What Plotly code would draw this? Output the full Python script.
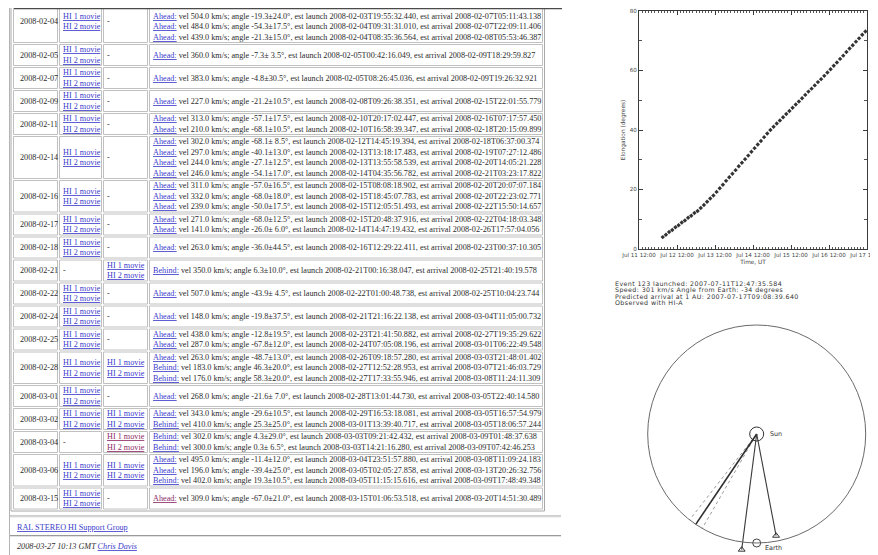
import numpy as np
import pandas as pd
import plotly.graph_objects as go

# ---------------- table data (web page listing) ----------------
dates = ["2008-02-04", "2008-02-05", "2008-02-07", "2008-02-09", "2008-02-11",
         "2008-02-14", "2008-02-16", "2008-02-17", "2008-02-18", "2008-02-21",
         "2008-02-22", "2008-02-24", "2008-02-25", "2008-02-28", "2008-03-01",
         "2008-03-02", "2008-03-04", "2008-03-06", "2008-03-15"]
hi_a_movies = [True, True, True, True, True, True, True, True, True, False,
               True, True, True, True, True, True, False, True, True]
hi_b_movies = [False, False, False, False, False, False, False, False, False, True,
               False, False, False, True, False, True, True, True, False]
visited_b_movies = ["2008-03-04"]
visited_events = [("2008-03-15", 0)]
first_row_hidden_lines = 1   # the first row is scrolled partly out of view

events = [
    [("Ahead", "vel 504.0 km/s; angle -19.3±24.0°, est launch 2008-02-03T19:55:32.440, est arrival 2008-02-07T05:11:43.138"),
     ("Ahead", "vel 484.0 km/s; angle -54.3±17.5°, est launch 2008-02-04T09:31:31.010, est arrival 2008-02-07T22:09:11.406"),
     ("Ahead", "vel 439.0 km/s; angle -21.3±15.0°, est launch 2008-02-04T08:35:36.564, est arrival 2008-02-08T05:53:46.387")],
    [("Ahead", "vel 360.0 km/s; angle -7.3± 3.5°, est launch 2008-02-05T00:42:16.049, est arrival 2008-02-09T18:29:59.827")],
    [("Ahead", "vel 383.0 km/s; angle -4.8±30.5°, est launch 2008-02-05T08:26:45.036, est arrival 2008-02-09T19:26:32.921")],
    [("Ahead", "vel 227.0 km/s; angle -21.2±10.5°, est launch 2008-02-08T09:26:38.351, est arrival 2008-02-15T22:01:55.779")],
    [("Ahead", "vel 313.0 km/s; angle -57.1±17.5°, est launch 2008-02-10T20:17:02.447, est arrival 2008-02-16T07:17:57.450"),
     ("Ahead", "vel 210.0 km/s; angle -68.1±10.5°, est launch 2008-02-10T16:58:39.347, est arrival 2008-02-18T20:15:09.899")],
    [("Ahead", "vel 302.0 km/s; angle -68.1± 8.5°, est launch 2008-02-12T14:45:19.394, est arrival 2008-02-18T06:37:00.374"),
     ("Ahead", "vel 297.0 km/s; angle -40.1±13.0°, est launch 2008-02-13T13:18:17.483, est arrival 2008-02-19T07:27:12.486"),
     ("Ahead", "vel 244.0 km/s; angle -27.1±12.5°, est launch 2008-02-13T13:55:58.539, est arrival 2008-02-20T14:05:21.228"),
     ("Ahead", "vel 246.0 km/s; angle -54.1±17.0°, est launch 2008-02-14T04:35:56.782, est arrival 2008-02-21T03:23:17.822")],
    [("Ahead", "vel 311.0 km/s; angle -57.0±16.5°, est launch 2008-02-15T08:08:18.902, est arrival 2008-02-20T20:07:07.184"),
     ("Ahead", "vel 332.0 km/s; angle -68.0±18.0°, est launch 2008-02-15T18:45:07.783, est arrival 2008-02-20T22:23:02.771"),
     ("Ahead", "vel 239.0 km/s; angle -50.0±17.5°, est launch 2008-02-15T12:05:51.493, est arrival 2008-02-22T15:50:14.657")],
    [("Ahead", "vel 271.0 km/s; angle -68.0±12.5°, est launch 2008-02-15T20:48:37.916, est arrival 2008-02-22T04:18:03.348"),
     ("Ahead", "vel 141.0 km/s; angle -26.0± 6.0°, est launch 2008-02-14T14:47:19.432, est arrival 2008-02-26T17:57:04.056")],
    [("Ahead", "vel 263.0 km/s; angle -36.0±44.5°, est launch 2008-02-16T12:29:22.411, est arrival 2008-02-23T00:37:10.305")],
    [("Behind", "vel 350.0 km/s; angle 6.3±10.0°, est launch 2008-02-21T00:16:38.047, est arrival 2008-02-25T21:40:19.578")],
    [("Ahead", "vel 507.0 km/s; angle -43.9± 4.5°, est launch 2008-02-22T01:00:48.738, est arrival 2008-02-25T10:04:23.744")],
    [("Ahead", "vel 148.0 km/s; angle -19.8±37.5°, est launch 2008-02-21T21:16:22.138, est arrival 2008-03-04T11:05:00.732")],
    [("Ahead", "vel 438.0 km/s; angle -12.8±19.5°, est launch 2008-02-23T21:41:50.882, est arrival 2008-02-27T19:35:29.622"),
     ("Ahead", "vel 287.0 km/s; angle -67.8±12.0°, est launch 2008-02-24T07:05:08.196, est arrival 2008-03-01T06:22:49.548")],
    [("Ahead", "vel 263.0 km/s; angle -48.7±13.0°, est launch 2008-02-26T09:18:57.280, est arrival 2008-03-03T21:48:01.402"),
     ("Behind", "vel 183.0 km/s; angle 46.3±20.0°, est launch 2008-02-27T12:52:28.953, est arrival 2008-03-07T21:46:03.729"),
     ("Behind", "vel 176.0 km/s; angle 58.3±20.0°, est launch 2008-02-27T17:33:55.946, est arrival 2008-03-08T11:24:11.309")],
    [("Ahead", "vel 268.0 km/s; angle -21.6± 7.0°, est launch 2008-02-28T13:01:44.730, est arrival 2008-03-05T22:40:14.580")],
    [("Ahead", "vel 343.0 km/s; angle -29.6±10.5°, est launch 2008-02-29T16:53:18.081, est arrival 2008-03-05T16:57:54.979"),
     ("Behind", "vel 410.0 km/s; angle 25.3±25.0°, est launch 2008-03-01T13:39:40.717, est arrival 2008-03-05T18:06:57.244")],
    [("Behind", "vel 302.0 km/s; angle 4.3±29.0°, est launch 2008-03-03T09:21:42.432, est arrival 2008-03-09T01:48:37.638"),
     ("Behind", "vel 300.0 km/s; angle 0.3± 6.5°, est launch 2008-03-03T14:21:16.280, est arrival 2008-03-09T07:42:46.253")],
    [("Ahead", "vel 495.0 km/s; angle -11.4±12.0°, est launch 2008-03-04T23:51:57.880, est arrival 2008-03-08T11:09:24.183"),
     ("Ahead", "vel 196.0 km/s; angle -39.4±25.0°, est launch 2008-03-05T02:05:27.858, est arrival 2008-03-13T20:26:32.756"),
     ("Behind", "vel 402.0 km/s; angle 19.3±10.5°, est launch 2008-03-05T11:15:15.616, est arrival 2008-03-09T17:48:49.348")],
    [("Ahead", "vel 309.0 km/s; angle -67.0±21.0°, est launch 2008-03-15T01:06:53.518, est arrival 2008-03-20T14:51:30.489")],
]

footer_group = "RAL STEREO HI Support Group"
footer_stamp = "2008-03-27 10:13 GMT"
footer_author = "Chris Davis"

# ---------------- elongation-time plot data ----------------
elong_deg = [4.0, 4.8, 5.7, 6.4, 7.3, 8.0, 8.9, 9.6, 10.5, 11.2, 12.1, 12.8,
             13.8, 14.8, 15.9, 17.0, 18.0, 19.2, 20.4, 21.6, 22.9, 24.1, 25.3, 26.5,
             27.8, 29.0, 30.2, 31.4, 32.7, 33.9, 35.1, 36.3, 37.6, 38.8, 40.0, 41.1,
             42.2, 43.2, 44.3, 45.4, 46.4, 47.5, 48.6, 49.6, 50.7, 51.8, 52.9, 53.9,
             55.0, 56.1, 57.1, 58.2, 59.3, 60.4, 61.6, 62.7, 63.9, 65.0, 66.2, 67.4,
             68.5, 69.7, 70.8, 72.0, 73.1, 74.3]
obs_start = "2007-07-12 03:00"
obs_cadence = "2h"
time_tick_vals = ["2007-07-11 12:00", "2007-07-12 12:00", "2007-07-13 12:00", "2007-07-14 12:00",
                  "2007-07-15 12:00", "2007-07-16 12:00", "2007-07-17 12:00"]
time_tick_text = ["Jul 11 12:00", "Jul 12 12:00", "Jul 13 12:00", "Jul 14 12:00",
                  "Jul 15 12:00", "Jul 16 12:00", "Jul 17 12:00"]
elong_tick_vals = [0, 20, 40, 60, 80]
elong_tick_text = ["0", "20", "40", "60", "80"]

event_info = ["Event 123 launched: 2007-07-11T12:47:35.584",
              "Speed: 301 km/s Angle from Earth: -34 degrees",
              "Predicted arrival at 1 AU: 2007-07-17T09:08:39.640",
              "Observed with HI-A"]

# ---------------- ecliptic-plane diagram data ----------------
sc_angle_deg = [10.8, -7.4]      # STEREO-A, STEREO-B, from Sun-Earth line
sc_dist_au = [0.95, 1.07]
cme_angle_deg = -34.0
cme_halfwidth_deg = 4.0
earth_dist_au = 1.0

# ======================================================================
W, H = 878, 555
OFF = 8.0          # page offset of the figure inside the browser window
LINK = "#3b3bcc"
VISITED = "#8e2a66"
BODY = "#2b2b2b"
SERIF = "Liberation Serif"
FS = 8.2


def px2x(p):
    return min(1.0, max(0.0, (p - OFF) / W))


def px2y(p):
    return min(1.0, max(0.0, 1 - (p - OFF) / H))


fig = go.Figure()
shapes = []
annos = []

fig.add_trace(go.Scatter(x=[0], y=[0], mode="markers", marker=dict(opacity=0),
                         hoverinfo="skip", showlegend=False, xaxis="x", yaxis="y"))


def hline(y, x0, x1, color, width=1):
    shapes.append(dict(type="line", xref="x", yref="y", x0=x0, x1=x1, y0=y, y1=y,
                       line=dict(color=color, width=width)))


def text(x, y, s, color=BODY, size=FS, family=SERIF, xanchor="left"):
    annos.append(dict(x=x, y=y, xref="x", yref="y", text=s, showarrow=False,
                      xanchor=xanchor, yanchor="middle",
                      font=dict(family=family, size=size, color=color)))


LH = 10.5
GAP = 2.0
lead = [first_row_hidden_lines if i == 0 else 0 for i in range(len(dates))]
row_n = [max(2, len(ev) + lead[i]) for i, ev in enumerate(events)]
row_h = [n * LH + GAP for n in row_n]
center1 = 55.0
tops = [0.0] * len(dates)
tops[1] = center1 - row_h[1] / 2
tops[0] = tops[1] - row_h[0]
for i in range(2, len(dates)):
    tops[i] = tops[i - 1] + row_h[i - 1]
table_bottom = tops[-1] + row_h[-1]

col_x = [(13.5, 57.5), (59.5, 101.5), (103.5, 147.5), (149.5, 542.5)]
CELL = "#c0c0c0"

shapes.append(dict(type="rect", xref="x", yref="y", x0=11, x1=544.5, y0=-5, y1=table_bottom + 1,
                   line=dict(color="#a8a8a8", width=1)))
shapes.append(dict(type="line", xref="x", yref="y", x0=9.5, x1=9.5, y0=0, y1=H + OFF,
                   line=dict(color="#b4b4b4", width=1)))

for i, d in enumerate(dates):
    t = tops[i]
    h = row_h[i]
    c = t + h / 2
    for (x0, x1) in col_x:
        shapes.append(dict(type="rect", xref="x", yref="y", x0=x0, x1=x1,
                           y0=t + GAP / 2, y1=t + h - GAP / 2,
                           line=dict(color=CELL, width=1)))
    text(17.5, c, d)
    if hi_a_movies[i]:
        text(60.5, c - LH / 2, "<u>HI 1 movie</u>", color=LINK)
        text(60.5, c + LH / 2, "<u>HI 2 movie</u>", color=LINK)
    else:
        text(60.5, c, "-")
    if hi_b_movies[i]:
        col = VISITED if d in visited_b_movies else LINK
        text(104.5, c - LH / 2, "<u>HI 1 movie</u>", color=col)
        text(104.5, c + LH / 2, "<u>HI 2 movie</u>", color=col)
    else:
        text(104.5, c, "-")
    n = len(events[i]) + lead[i]
    for k, (craft, body) in enumerate(events[i]):
        kk = k + lead[i]
        yk = c + (kk - (n - 1) / 2) * LH
        col = VISITED if (d, k) in visited_events else LINK
        s = f"<span style='color:{col}'><u>{craft}:</u></span> {body}"
        text(150.5, yk, s)

hline(8.5, 14, 562, "#4a4a4a", 1.5)

hline(table_bottom + 6, 10, 561, "#9a9a9a", 1)
hline(table_bottom + 7, 10, 561, "#e2e2e2", 1)
text(15, table_bottom + 17.5, f"<u>{footer_group}</u>", color=LINK)
hline(table_bottom + 25.5, 10, 561, "#9a9a9a", 1)
hline(table_bottom + 26.5, 10, 561, "#e2e2e2", 1)
text(15, table_bottom + 36, f"<i>{footer_stamp} <span style='color:{LINK}'><u>{footer_author}</u></span></i>")

# ---------------- elongation plot ----------------
obs_times = pd.date_range(obs_start, periods=len(elong_deg), freq=obs_cadence)
fig.add_trace(go.Scatter(x=obs_times, y=elong_deg, mode="markers", xaxis="x2", yaxis="y2",
                         marker=dict(symbol="diamond", size=3.4, color="#333333"),
                         showlegend=False, hoverinfo="skip", cliponaxis=False))

SANS = "DejaVu Sans"
AX = "#3a3a3a"
px_l, px_r, px_t, px_b = 639, 867, 11, 249

# ---------------- ecliptic diagram ----------------
R = 109.0
cx_px, cy_px = 756.7, 434.0
d_l, d_r, d_t, d_b = 630, 878 + OFF, 320, 555 + OFF
x3_range = [-(cx_px - d_l) / R, (d_r - cx_px) / R]
y3_range = [-(d_b - cy_px) / R, (cy_px - d_t) / R]

ang = np.radians(sc_angle_deg)
sc_x = np.array(sc_dist_au) * np.sin(ang)
sc_y = -np.array(sc_dist_au) * np.cos(ang)

shapes.append(dict(type="circle", xref="x3", yref="y3", x0=-1, x1=1, y0=-1, y1=1,
                   line=dict(color="#6a6a6a", width=1)))
for sx, sy in zip(sc_x, sc_y):
    fig.add_trace(go.Scatter(x=[0, sx], y=[0, sy], mode="lines", xaxis="x3", yaxis="y3",
                             line=dict(color="#3a3a3a", width=1.1), showlegend=False, hoverinfo="skip"))
for off, dash, colr, wd in [(-cme_halfwidth_deg, "dot", "#9a9a9a", 1), (cme_halfwidth_deg, "dot", "#9a9a9a", 1),
                            (0.0, "solid", "#2e2e2e", 1.6)]:
    a = np.radians(cme_angle_deg + off)
    fig.add_trace(go.Scatter(x=[0, np.sin(a)], y=[0, -np.cos(a)], mode="lines", xaxis="x3", yaxis="y3",
                             line=dict(color=colr, width=wd, dash=dash), showlegend=False, hoverinfo="skip"))
fig.add_trace(go.Scatter(x=sc_x, y=sc_y, mode="markers", xaxis="x3", yaxis="y3",
                         marker=dict(symbol="triangle-up-open", size=6, color="#333", line=dict(width=1)),
                         showlegend=False, hoverinfo="skip", cliponaxis=False))
fig.add_trace(go.Scatter(x=[0], y=[0], mode="markers", xaxis="x3", yaxis="y3",
                         marker=dict(symbol="circle-open", size=14, color="#333", line=dict(width=1)),
                         showlegend=False, hoverinfo="skip"))
fig.add_trace(go.Scatter(x=[0], y=[-earth_dist_au], mode="markers", xaxis="x3", yaxis="y3",
                         marker=dict(symbol="circle-open", size=8, color="#444", line=dict(width=1)),
                         showlegend=False, hoverinfo="skip", cliponaxis=False))
annos.append(dict(x=0.1, y=0.0, xref="x3", yref="y3", text="Sun", showarrow=False, xanchor="left",
                  yanchor="middle", font=dict(family=SANS, size=6.4, color="#333")))
annos.append(dict(x=0.055, y=-earth_dist_au - 0.045, xref="x3", yref="y3", text="Earth", showarrow=False,
                  xanchor="left", yanchor="middle", font=dict(family=SANS, size=6.4, color="#333")))

for k, s in enumerate(event_info):
    annos.append(dict(x=612.5, y=283.5 + k * 6.3, xref="x", yref="y",
                      text=f"<span style='letter-spacing:0.4px'>{s}</span>", showarrow=False,
                      xanchor="left", yanchor="middle", font=dict(family=SANS, size=6.3, color="#333")))

fig.update_layout(
    width=W, height=H, margin=dict(l=0, r=0, t=0, b=0, pad=0, autoexpand=False),
    paper_bgcolor="white", plot_bgcolor="rgba(0,0,0,0)", showlegend=False,
    xaxis=dict(domain=[0, 1], range=[OFF, W + OFF], visible=False, fixedrange=True, automargin=False),
    yaxis=dict(domain=[0, 1], range=[H + OFF, OFF], visible=False, fixedrange=True, automargin=False),
    xaxis2=dict(domain=[px2x(px_l), px2x(px_r)], anchor="y2", automargin=False,
                range=[time_tick_vals[0], time_tick_vals[-1]],
                tickmode="array", tickvals=time_tick_vals, ticktext=time_tick_text,
                ticks="inside", ticklen=4, tickcolor=AX, tickwidth=1,
                showline=True, linecolor=AX, linewidth=1, mirror="ticks",
                showgrid=False, zeroline=False, ticklabeloverflow="allow",
                tickfont=dict(family=SANS, size=5.6, color="#444"),
                minor=dict(tickmode="linear", tick0=time_tick_vals[0], dtick=7200000,
                           ticks="inside", ticklen=2, tickcolor="#555", showgrid=False),
                title=dict(text="Time, UT", font=dict(family=SANS, size=5.8, color="#444"), standoff=1)),
    yaxis2=dict(domain=[px2y(px_b), px2y(px_t)], anchor="x2", range=[0, 80], automargin=False,
                tickmode="array", tickvals=elong_tick_vals, ticktext=elong_tick_text,
                ticks="inside", ticklen=4, tickcolor=AX, tickwidth=1,
                showline=True, linecolor=AX, linewidth=1, mirror="ticks",
                showgrid=False, zeroline=False, ticklabeloverflow="allow",
                tickfont=dict(family=SANS, size=5.6, color="#444"),
                minor=dict(tickmode="linear", tick0=0, dtick=10, ticks="inside", ticklen=3,
                           tickcolor="#555", showgrid=False),
                title=dict(text="Elongation (degrees)", font=dict(family=SANS, size=5.8, color="#444"),
                           standoff=3)),
    xaxis3=dict(domain=[px2x(d_l), px2x(d_r)], anchor="y3", range=x3_range, visible=False, fixedrange=True,
                automargin=False),
    yaxis3=dict(domain=[px2y(d_b), px2y(d_t)], anchor="x3", range=y3_range, visible=False,
                fixedrange=True, automargin=False),
    shapes=shapes, annotations=annos,
)

fig.write_html("out.html")
